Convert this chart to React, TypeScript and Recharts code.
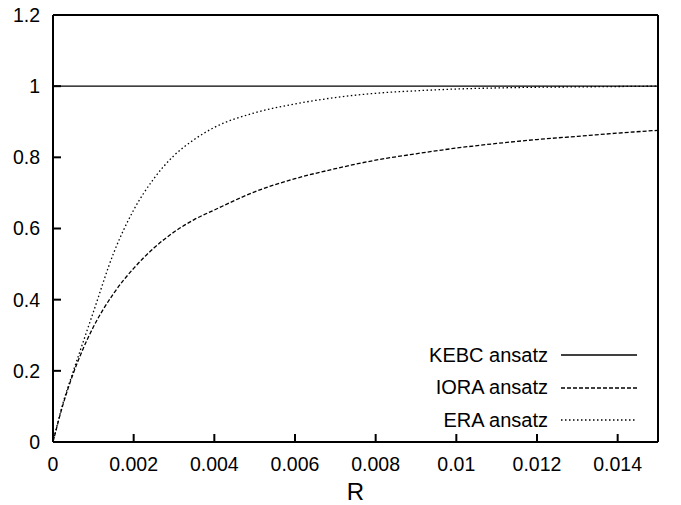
import { LineChart, Line, XAxis, YAxis, Legend } from "recharts"

// values
const rValues = [0, 0.00025, 0.0005, 0.00075, 0.001, 0.0015, 0.002, 0.0025, 0.003, 0.0035, 0.004, 0.005, 0.006, 0.007, 0.008, 0.009, 0.01, 0.011, 0.012, 0.013, 0.014, 0.015]
const kebc = [1, 1, 1, 1, 1, 1, 1, 1, 1, 1, 1, 1, 1, 1, 1, 1, 1, 1, 1, 1, 1, 1]
const iora = [0, 0.106, 0.192, 0.263, 0.323, 0.417, 0.488, 0.545, 0.59, 0.625, 0.652, 0.703, 0.74, 0.768, 0.792, 0.81, 0.826, 0.839, 0.85, 0.859, 0.868, 0.876]
const era = [0, 0.11, 0.198, 0.282, 0.365, 0.53, 0.652, 0.74, 0.805, 0.85, 0.884, 0.925, 0.95, 0.968, 0.98, 0.987, 0.992, 0.995, 0.997, 0.998, 0.999, 1.0]

const xTicks = [0, 0.002, 0.004, 0.006, 0.008, 0.01, 0.012, 0.014]
const yTicks = [0, 0.2, 0.4, 0.6, 0.8, 1, 1.2]

const series = [
  { key: "kebc", name: "KEBC ansatz", dash: undefined as string | undefined },
  { key: "iora", name: "IORA ansatz", dash: "4 2" },
  { key: "era", name: "ERA ansatz", dash: "1.5 2.5" },
]

const data = rValues.map((r, i) => ({ r, kebc: kebc[i], iora: iora[i], era: era[i] }))

const FONT = "'Liberation Sans', Arial, Helvetica, sans-serif"

const renderLegend = () => (
  <div style={{ fontFamily: FONT, fontSize: 20, color: "#000" }}>
    {series.map((s) => (
      <div key={s.key} style={{ display: "flex", alignItems: "center", justifyContent: "flex-end", height: 32.5 }}>
        <span style={{ marginRight: 13 }}>{s.name}</span>
        <svg width={76} height={6}>
          <line x1={0} y1={3} x2={76} y2={3} stroke="#000" strokeWidth={1.3} strokeDasharray={s.dash} />
        </svg>
      </div>
    ))}
  </div>
)

const frame = { stroke: "#000", strokeWidth: 2 }

export default function App() {
  return (
    <div style={{ width: 681, height: 505, background: "#fff" }}>
      <style>{`body{margin:0}`}</style>
      <LineChart width={681} height={505} data={data} margin={{ top: 14, right: 22, bottom: 13, left: 0 }}>
        <XAxis
          dataKey="r"
          type="number"
          domain={[0, 0.015]}
          ticks={xTicks}
          allowDataOverflow
          tickSize={-8}
          tickMargin={23}
          height={50}
          axisLine={frame}
          tickLine={frame}
          tick={{ fill: "#000", fontSize: 19.5, fontFamily: FONT }}
          tickFormatter={(v: number) => String(v)}
          label={{ value: "R", position: "insideBottom", offset: -8, fill: "#000", fontSize: 24, fontFamily: FONT }}
        />
        <XAxis
          xAxisId="top"
          dataKey="r"
          orientation="top"
          type="number"
          domain={[0, 0.015]}
          ticks={xTicks}
          allowDataOverflow
          height={1}
          tickSize={-8}
          tickMargin={0}
          tick={false}
          axisLine={frame}
          tickLine={frame}
        />
        <YAxis
          type="number"
          domain={[0, 1.2]}
          ticks={yTicks}
          allowDataOverflow
          width={53}
          tickSize={-8}
          tickMargin={21}
          axisLine={frame}
          tickLine={frame}
          tick={{ fill: "#000", fontSize: 19.5, fontFamily: FONT }}
          tickFormatter={(v: number) => String(v)}
        />
        <YAxis
          yAxisId="right"
          orientation="right"
          type="number"
          domain={[0, 1.2]}
          ticks={yTicks}
          allowDataOverflow
          width={1}
          tickSize={-8}
          tickMargin={0}
          tick={false}
          axisLine={frame}
          tickLine={frame}
        />
        {series.map((s) => (
          <Line
            key={s.key}
            dataKey={s.key}
            name={s.name}
            type="monotone"
            stroke="#000"
            strokeWidth={1.3}
            strokeDasharray={s.dash}
            dot={false}
            activeDot={false}
            isAnimationActive={false}
          />
        ))}
        <Line
          dataKey="kebc"
          xAxisId="top"
          yAxisId="right"
          stroke="none"
          dot={false}
          activeDot={false}
          legendType="none"
          isAnimationActive={false}
        />
        <Legend
          layout="vertical"
          align="center"
          verticalAlign="middle"
          content={renderLegend}
          wrapperStyle={{ left: 358, top: 339, width: 279 }}
        />
      </LineChart>
    </div>
  )
}
